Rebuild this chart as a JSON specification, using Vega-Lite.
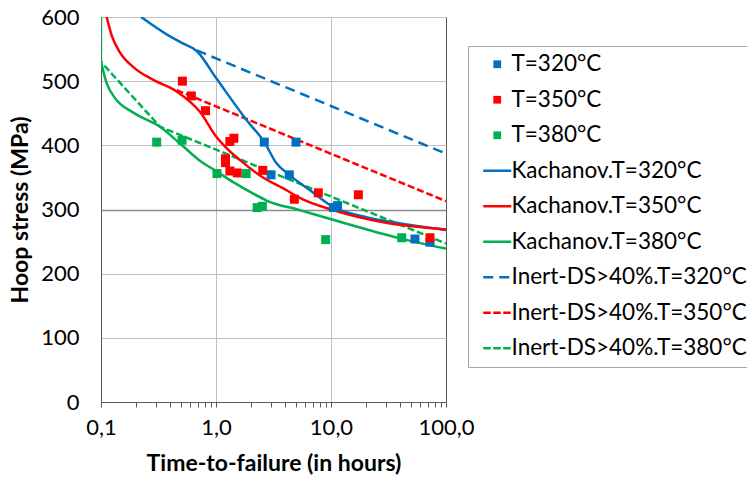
{
  "$schema": "https://vega.github.io/schema/vega-lite/v6.json",
  "width": 345,
  "height": 385,
  "autosize": {"type": "none"},
  "padding": {"left": 101, "top": 17, "right": 301, "bottom": 82},
  "background": "white",
  "config": {"font": "Lato", "view": {"stroke": "#595959", "strokeWidth": 1}},
  "datasets": {
    "pts": [
      {"series": "T=320°C", "t": 2.63, "s": 405},
      {"series": "T=320°C", "t": 4.96, "s": 405},
      {"series": "T=320°C", "t": 3.01, "s": 354},
      {"series": "T=320°C", "t": 4.34, "s": 354},
      {"series": "T=320°C", "t": 10.5, "s": 303},
      {"series": "T=320°C", "t": 11.4, "s": 306},
      {"series": "T=320°C", "t": 53.7, "s": 254},
      {"series": "T=320°C", "t": 72.6, "s": 249},
      {"series": "T=350°C", "t": 0.51, "s": 500},
      {"series": "T=350°C", "t": 0.61, "s": 477},
      {"series": "T=350°C", "t": 0.81, "s": 454},
      {"series": "T=350°C", "t": 1.32, "s": 406},
      {"series": "T=350°C", "t": 1.43, "s": 411},
      {"series": "T=350°C", "t": 1.21, "s": 379},
      {"series": "T=350°C", "t": 1.21, "s": 373},
      {"series": "T=350°C", "t": 1.32, "s": 360},
      {"series": "T=350°C", "t": 1.53, "s": 357},
      {"series": "T=350°C", "t": 2.55, "s": 361},
      {"series": "T=350°C", "t": 4.8, "s": 316},
      {"series": "T=350°C", "t": 7.76, "s": 326},
      {"series": "T=350°C", "t": 17.3, "s": 323},
      {"series": "T=350°C", "t": 72.6, "s": 256},
      {"series": "T=380°C", "t": 0.305, "s": 405},
      {"series": "T=380°C", "t": 0.507, "s": 408},
      {"series": "T=380°C", "t": 1.02, "s": 356},
      {"series": "T=380°C", "t": 1.83, "s": 356},
      {"series": "T=380°C", "t": 2.28, "s": 303},
      {"series": "T=380°C", "t": 2.53, "s": 305},
      {"series": "T=380°C", "t": 8.99, "s": 253},
      {"series": "T=380°C", "t": 41.2, "s": 256}
    ],
    "kach": [
      {"series": "Kachanov.T=320°C", "ord": 1, "t": 0.223, "s": 600},
      {"series": "Kachanov.T=320°C", "ord": 2, "t": 0.372, "s": 573},
      {"series": "Kachanov.T=320°C", "ord": 3, "t": 0.5, "s": 560},
      {"series": "Kachanov.T=320°C", "ord": 4, "t": 0.68, "s": 547},
      {"series": "Kachanov.T=320°C", "ord": 5, "t": 1.01, "s": 504},
      {"series": "Kachanov.T=320°C", "ord": 6, "t": 1.85, "s": 439},
      {"series": "Kachanov.T=320°C", "ord": 7, "t": 2.63, "s": 405},
      {"series": "Kachanov.T=320°C", "ord": 8, "t": 3.36, "s": 372},
      {"series": "Kachanov.T=320°C", "ord": 9, "t": 4.34, "s": 354},
      {"series": "Kachanov.T=320°C", "ord": 10, "t": 6.57, "s": 330},
      {"series": "Kachanov.T=320°C", "ord": 11, "t": 10.4, "s": 304},
      {"series": "Kachanov.T=320°C", "ord": 12, "t": 20.3, "s": 288},
      {"series": "Kachanov.T=320°C", "ord": 13, "t": 34.8, "s": 280},
      {"series": "Kachanov.T=320°C", "ord": 14, "t": 100, "s": 268},
      {"series": "Kachanov.T=350°C", "ord": 1, "t": 0.112, "s": 600},
      {"series": "Kachanov.T=350°C", "ord": 2, "t": 0.124, "s": 571},
      {"series": "Kachanov.T=350°C", "ord": 3, "t": 0.146, "s": 545},
      {"series": "Kachanov.T=350°C", "ord": 4, "t": 0.191, "s": 522},
      {"series": "Kachanov.T=350°C", "ord": 5, "t": 0.285, "s": 502},
      {"series": "Kachanov.T=350°C", "ord": 6, "t": 0.455, "s": 484},
      {"series": "Kachanov.T=350°C", "ord": 7, "t": 0.727, "s": 452},
      {"series": "Kachanov.T=350°C", "ord": 8, "t": 1.01, "s": 413},
      {"series": "Kachanov.T=350°C", "ord": 9, "t": 1.28, "s": 393},
      {"series": "Kachanov.T=350°C", "ord": 10, "t": 1.62, "s": 377},
      {"series": "Kachanov.T=350°C", "ord": 11, "t": 2.41, "s": 353},
      {"series": "Kachanov.T=350°C", "ord": 12, "t": 4.11, "s": 330},
      {"series": "Kachanov.T=350°C", "ord": 13, "t": 5.35, "s": 318},
      {"series": "Kachanov.T=350°C", "ord": 14, "t": 10.4, "s": 299},
      {"series": "Kachanov.T=350°C", "ord": 15, "t": 28.5, "s": 280},
      {"series": "Kachanov.T=350°C", "ord": 16, "t": 100, "s": 269},
      {"series": "Kachanov.T=380°C", "ord": 1, "t": 0.1, "s": 530},
      {"series": "Kachanov.T=380°C", "ord": 2, "t": 0.112, "s": 497},
      {"series": "Kachanov.T=380°C", "ord": 3, "t": 0.132, "s": 474},
      {"series": "Kachanov.T=380°C", "ord": 4, "t": 0.191, "s": 451},
      {"series": "Kachanov.T=380°C", "ord": 5, "t": 0.326, "s": 429},
      {"series": "Kachanov.T=380°C", "ord": 6, "t": 0.5, "s": 401},
      {"series": "Kachanov.T=380°C", "ord": 7, "t": 0.75, "s": 374},
      {"series": "Kachanov.T=380°C", "ord": 8, "t": 1.0, "s": 360},
      {"series": "Kachanov.T=380°C", "ord": 9, "t": 1.4, "s": 343},
      {"series": "Kachanov.T=380°C", "ord": 10, "t": 2.0, "s": 327},
      {"series": "Kachanov.T=380°C", "ord": 11, "t": 2.75, "s": 314},
      {"series": "Kachanov.T=380°C", "ord": 12, "t": 5.35, "s": 299},
      {"series": "Kachanov.T=380°C", "ord": 13, "t": 10.4, "s": 284},
      {"series": "Kachanov.T=380°C", "ord": 14, "t": 39.8, "s": 255},
      {"series": "Kachanov.T=380°C", "ord": 15, "t": 100, "s": 239}
    ],
    "inert": [
      {"series": "Inert-DS>40%.T=320°C", "ord": 1, "t": 0.68, "s": 548},
      {"series": "Inert-DS>40%.T=320°C", "ord": 2, "t": 100, "s": 387},
      {"series": "Inert-DS>40%.T=350°C", "ord": 1, "t": 0.455, "s": 486},
      {"series": "Inert-DS>40%.T=350°C", "ord": 2, "t": 100, "s": 313},
      {"series": "Inert-DS>40%.T=380°C", "ord": 1, "t": 0.1, "s": 600},
      {"series": "Inert-DS>40%.T=380°C", "ord": 2, "t": 0.1, "s": 530},
      {"series": "Inert-DS>40%.T=380°C", "ord": 3, "t": 0.326, "s": 429},
      {"series": "Inert-DS>40%.T=380°C", "ord": 4, "t": 100, "s": 247}
    ]
  },
  "encoding": {
    "x": {
      "field": "t", "type": "quantitative",
      "scale": {"type": "log", "domain": [0.1, 100], "nice": false},
      "axis": {
        "values": [0.1,0.2,0.3,0.4,0.5,0.6,0.7,0.8,0.9,1,2,3,4,5,6,7,8,9,10,20,30,40,50,60,70,80,90,100],
        "labelExpr": "(datum.value==0.1||datum.value==1||datum.value==10||datum.value==100) ? replace(format(datum.value,'.1f'),'.',',') : ''",
        "title": "Time-to-failure (in hours)",
        "titleFontSize": 23, "titleFontWeight": "bold", "titleColor": "black", "titlePadding": 14,
        "labelFontSize": 22, "labelColor": "black", "labelPadding": 10,
        "labelOverlap": false, "labelFlush": false,
        "tickSize": 5, "tickColor": "#595959", "domainColor": "#595959",
        "grid": true, "gridColor": "#bfbfbf",
        "gridOpacity": {"condition": {"test": "datum.value==1||datum.value==10", "value": 1}, "value": 0}
      }
    },
    "y": {
      "field": "s", "type": "quantitative",
      "scale": {"domain": [0, 600], "nice": false},
      "axis": {
        "values": [0,100,200,300,400,500,600],
        "title": "Hoop stress (MPa)",
        "titleFontSize": 23, "titleFontWeight": "bold", "titleColor": "black", "titlePadding": 8,
        "labelFontSize": 22, "labelColor": "black", "labelPadding": 22,
        "ticks": false, "domainColor": "#595959",
        "grid": true,
        "gridColor": {"condition": {"test": "datum.value==300", "value": "#8c8c8c"}, "value": "#bfbfbf"},
        "gridWidth": {"condition": {"test": "datum.value==300", "value": 1.5}, "value": 1}
      }
    },
    "color": {
      "field": "series", "type": "nominal",
      "scale": {
        "domain": ["T=320°C","T=350°C","T=380°C","Kachanov.T=320°C","Kachanov.T=350°C","Kachanov.T=380°C","Inert-DS>40%.T=320°C","Inert-DS>40%.T=350°C","Inert-DS>40%.T=380°C"],
        "range": ["#0070C0","#FF0000","#00B050","#0070C0","#FF0000","#00B050","#0070C0","#FF0000","#00B050"]
      },
      "legend": {
        "title": null, "orient": "none", "legendX": 367, "legendY": 29,
        "padding": 7, "strokeColor": "#a6a6a6", "fillColor": "white",
        "labelFontSize": 22.5, "labelColor": "black", "labelLimit": 400,
        "symbolSize": 784, "symbolOffset": 11, "labelOffset": 3, "rowPadding": 12.5,
        "symbolStrokeWidth": 2.5,
        "encode": {
          "symbols": {
            "update": {
              "shape": {"signal": "test(/^T=/, datum.value) ? 'square' : 'stroke'"},
              "size": {"signal": "test(/^T=/, datum.value) ? 60 : 784"},
              "fill": {"signal": "test(/^T=/, datum.value) ? scale('color', datum.value) : 'transparent'"},
              "stroke": {"signal": "scale('color', datum.value)"},
              "strokeWidth": {"signal": "test(/^T=/, datum.value) ? 0 : 2.5"},
              "strokeDash": {"signal": "datum.value == 'Inert-DS>40%.T=320°C' ? [10,6] : (test(/^Inert/, datum.value) ? [7.5,2.5] : [1,0])"},
              "opacity": {"value": 1}
            }
          }
        }
      }
    }
  },
  "layer": [
    {
      "data": {"name": "inert"},
      "mark": {"type": "line", "strokeWidth": 2.5, "clip": true},
      "encoding": {
        "order": {"field": "ord", "type": "quantitative"},
        "strokeDash": {
          "field": "series", "type": "nominal",
          "scale": {"domain": ["Inert-DS>40%.T=320°C","Inert-DS>40%.T=350°C","Inert-DS>40%.T=380°C"], "range": [[10,6],[7,3],[7,3]]},
          "legend": null
        }
      }
    },
    {
      "data": {"name": "kach"},
      "mark": {"type": "line", "strokeWidth": 2.5, "clip": true, "interpolate": "monotone"},
      "encoding": {
        "order": {"field": "ord", "type": "quantitative"}
      }
    },
    {
      "data": {"name": "pts"},
      "mark": {"type": "square", "size": 81, "opacity": 1, "clip": true}
    }
  ]
}
